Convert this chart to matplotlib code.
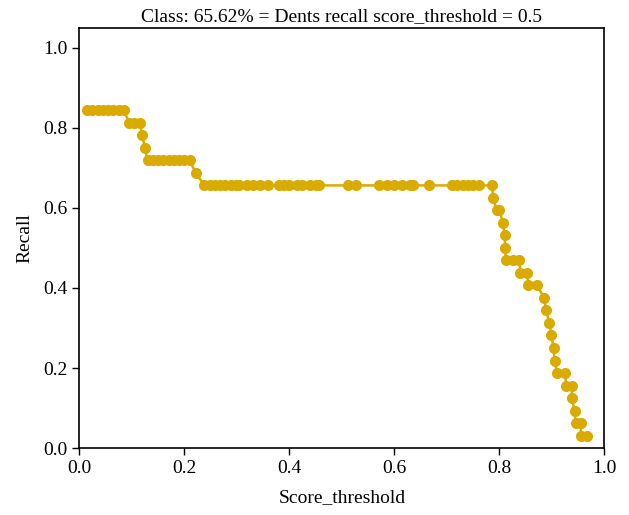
import matplotlib
matplotlib.use("Agg")
import matplotlib.pyplot as plt

title = "Class: 65.62% = Dents recall score_threshold = 0.5"
xlabel = "Score_threshold"
ylabel = "Recall"

# score thresholds (detection scores) and recall at each
scores = [0.015, 0.025, 0.035, 0.045, 0.055, 0.065, 0.075, 0.085,
          0.095, 0.105, 0.115,
          0.120,
          0.125,
          0.130, 0.140, 0.150, 0.160, 0.170, 0.180, 0.190, 0.200, 0.210,
          0.222,
          0.238, 0.248, 0.258, 0.268, 0.278, 0.288, 0.298, 0.305,
          0.320, 0.330, 0.345, 0.360, 0.380, 0.390, 0.400, 0.415, 0.425,
          0.440, 0.450, 0.457,
          0.512, 0.527,
          0.571, 0.585, 0.600, 0.615, 0.630, 0.636,
          0.665,
          0.709, 0.720, 0.730, 0.740, 0.750, 0.762, 0.786,
          0.788,
          0.795, 0.800,
          0.807,
          0.810,
          0.811,
          0.812, 0.825, 0.838,
          0.840, 0.853,
          0.855, 0.872,
          0.885,
          0.889,
          0.895,
          0.899,
          0.903,
          0.905,
          0.910, 0.925,
          0.927, 0.938,
          0.938,
          0.943,
          0.945, 0.955,
          0.955, 0.966]
recall = [0.84375] * 8 + \
         [0.8125] * 3 + \
         [0.78125] + \
         [0.75] + \
         [0.71875] * 9 + \
         [0.6875] + \
         [0.65625] * 36 + \
         [0.625] + \
         [0.59375] * 2 + \
         [0.5625] + \
         [0.53125] + \
         [0.5] + \
         [0.46875] * 3 + \
         [0.4375] * 2 + \
         [0.40625] * 2 + \
         [0.375] + \
         [0.34375] + \
         [0.3125] + \
         [0.28125] + \
         [0.25] + \
         [0.21875] + \
         [0.1875] * 2 + \
         [0.15625] * 2 + \
         [0.125] + \
         [0.09375] + \
         [0.0625] * 2 + \
         [0.03125] * 2

plt.rcParams['font.family'] = ['Liberation Serif', 'DejaVu Serif']

fig = plt.figure(figsize=(6.29, 5.15), dpi=100)
ax = fig.add_axes([0.126, 0.130, 0.835, 0.816])

ax.plot(scores, recall, color='#d9ab00', linewidth=1.8, marker='o',
        markersize=8, markeredgewidth=0)

ax.set_xlim(0, 1.0)
ax.set_ylim(0, 1.05)
ax.set_xticks([0.0, 0.2, 0.4, 0.6, 0.8, 1.0])
ax.set_yticks([0.0, 0.2, 0.4, 0.6, 0.8, 1.0])
ax.tick_params(labelsize=14, length=5, width=1)
ax.set_xlabel(xlabel, fontsize=14, labelpad=9)
ax.set_ylabel(ylabel, fontsize=14, labelpad=7)
ax.set_title(title, fontsize=14, pad=5)
for s in ax.spines.values():
    s.set_linewidth(1.2)

fig.savefig("out.png", dpi=100)
